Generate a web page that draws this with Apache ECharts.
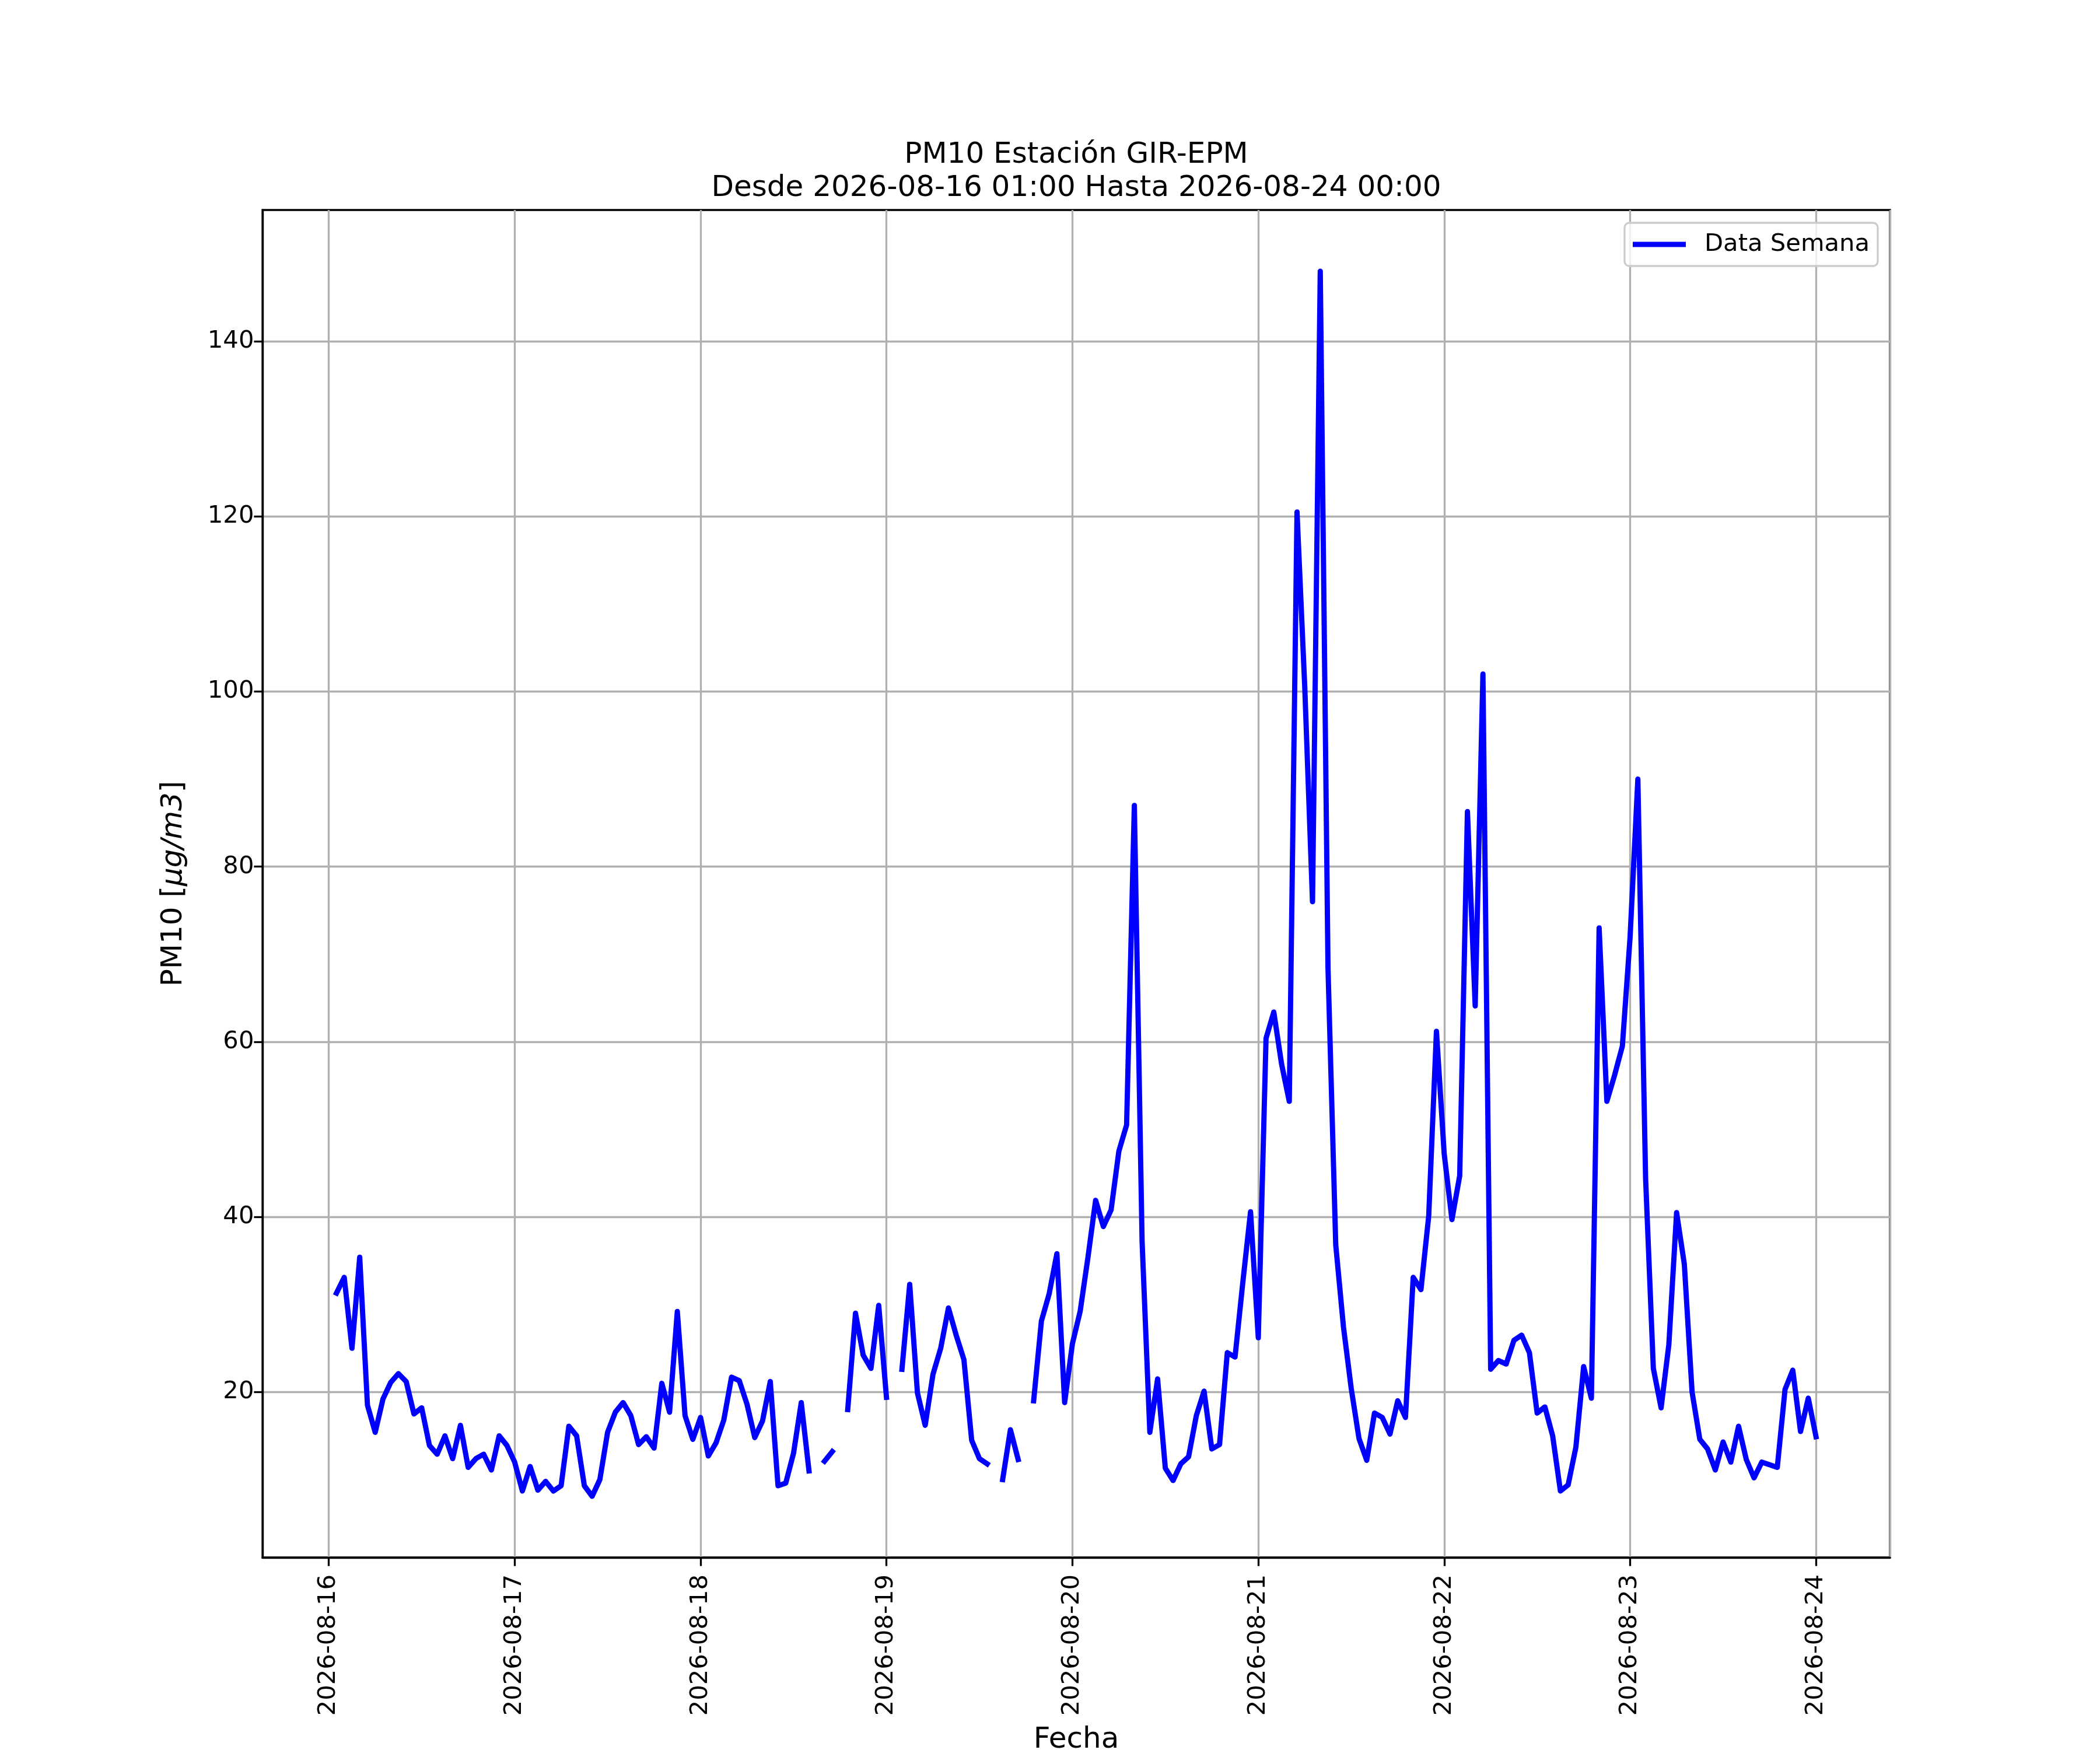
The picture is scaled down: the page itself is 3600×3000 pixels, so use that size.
<!DOCTYPE html>
<html>
<head>
<meta charset="utf-8">
<title>PM10 Estación GIR-EPM</title>
<script src="https://cdn.jsdelivr.net/npm/echarts@6/dist/echarts.min.js"></script>
<style>
    html, body { margin: 0; padding: 0; background: #fff; }
    #chart { width: 3600px; height: 3000px; }
</style>
</head>
<body>
<div id="chart"></div>
<script>
// valores horarios PM10, cada dia de 01:00 a 00:00 del dia siguiente (null = sin dato)
let day16 = [31.3, 33.1, 25.0, 35.4, 18.5, 15.4, 19.2, 21.1, 22.1, 21.2, 17.5, 18.2,
    13.9, 12.9, 15.0, 12.4, 16.2, 11.4, 12.4, 12.9, 11.1, 15.0, 13.9, 12.0];
let day17 = [8.7, 11.5, 8.8, 9.8, 8.7, 9.3, 16.1, 15.0, 9.3, 8.1, 10.0, 15.4,
    17.7, 18.8, 17.3, 14.0, 14.9, 13.6, 21.0, 17.7, 29.2, 17.3, 14.6, 17.1];
let day18 = [12.7, 14.2, 16.8, 21.7, 21.3, 18.6, 14.8, 16.7, 21.2, 9.3, 9.6, 13.0,
    18.8, 11.0, null, 12.1, 13.2, null, 18.0, 29.0, 24.2, 22.7, 29.9, 19.4];
let day19 = [null, 22.6, 32.3, 19.9, 16.2, 22.0, 25.0, 29.6, 26.5, 23.7, 14.5, 12.4,
    11.8, null, 10.0, 15.7, 12.3, null, 19.0, 28.1, 31.2, 35.8, 18.8, 25.5];
let day20 = [29.2, 35.3, 41.9, 38.9, 40.8, 47.5, 50.5, 87.0, 37.2, 15.4, 21.5, 11.3,
    9.9, 11.8, 12.6, 17.3, 20.1, 13.5, 14.0, 24.5, 24.0, 32.5, 40.6, 26.2];
let day21 = [60.4, 63.4, 57.5, 53.2, 120.5, 100.5, 76.0, 148.0, 68.4, 36.8, 27.4, 20.4,
    14.7, 12.2, 17.6, 17.1, 15.2, 19.0, 17.1, 33.1, 31.7, 40.1, 61.2, 47.2];
let day22 = [39.7, 44.7, 86.3, 64.1, 102.0, 22.6, 23.6, 23.2, 25.9, 26.5, 24.5, 17.6,
    18.3, 15.0, 8.7, 9.4, 13.7, 22.9, 19.3, 73.0, 53.2, 56.2, 59.5, 72.0];
let day23 = [90.0, 44.4, 22.7, 18.2, 25.4, 40.5, 34.6, 20.0, 14.6, 13.5, 11.1, 14.3,
    12.0, 16.1, 12.3, 10.2, 12.0, 11.7, 11.4, 20.3, 22.5, 15.5, 19.3, 14.9];

let yTicks = [20, 40, 60, 80, 100, 120, 140];
let titulo = "PM10 Estación GIR-EPM";
let subtitulo = "Desde 2026-08-16 01:00 Hasta 2026-08-24 00:00";

let pm10 = [].concat(day16, day17, day18, day19, day20, day21, day22, day23);
let hora = 3600 * 1000;
let inicio = new Date(2026, 7, 16, 1).getTime();
let data = pm10.map(function (v, i) {
    return [new Date(2026, 7, 16, 1 + i).getTime(), v];
});

// margenes como matplotlib (5%)
let fin = data[data.length - 1][0];
let xMin = inicio - 0.05 * (fin - inicio);
let xMax = fin + 0.05 * (fin - inicio);
let vals = pm10.filter(function (v) { return v != null; });
let yLo = Math.min.apply(null, vals), yHi = Math.max.apply(null, vals);
let yMin = yLo - 0.05 * (yHi - yLo);
let yMax = yHi + 0.05 * (yHi - yLo);

let font = "DejaVu Sans";
function pad(n) { return n < 10 ? "0" + n : "" + n; }

let myChart = echarts.init(document.getElementById("chart"), null, {renderer: "canvas"});
let option = {
    backgroundColor: "#fff",
    animation: false,
    title: {
        text: titulo + "\n" + subtitulo,
        left: 1845,
        textAlign: "center",
        top: 238,
        padding: 0,
        textStyle: {
            fontFamily: font,
            fontSize: 50,
            fontWeight: "normal",
            color: "#000",
            lineHeight: 57
        }
    },
    legend: {
        data: ["Data Semana"],
        left: 2785,
        top: 382,
        orient: "vertical",
        icon: "rect",
        itemWidth: 91,
        itemHeight: 9,
        padding: [15, 14, 15, 14],
        borderColor: "#cccccc",
        borderWidth: 3.3,
        borderRadius: 8,
        backgroundColor: "rgba(255,255,255,0.8)",
        textStyle: {
            fontFamily: font,
            fontSize: 41.7,
            color: "#000",
            lineHeight: 44,
            padding: [0, 0, 0, 27]
        }
    },
    grid: {
        left: 450,
        right: 360,
        top: 360,
        bottom: 330,
        outerBoundsMode: "none",
        containLabel: false,
        show: true,
        borderColor: "#000",
        borderWidth: 3.3,
        backgroundColor: "transparent"
    },
    xAxis: {
        type: "time",
        min: xMin,
        max: xMax,
        minInterval: 24 * hora,
        maxInterval: 24 * hora,
        name: "Fecha",
        nameLocation: "middle",
        nameGap: 288,
        nameTextStyle: {fontFamily: font, fontSize: 50, color: "#000"},
        axisLine: {show: true, lineStyle: {color: "#000", width: 3.3}},
        axisTick: {show: true, length: 14.6, lineStyle: {color: "#000", width: 3.3}},
        axisLabel: {
            rotate: 90,
            margin: 29,
            fontFamily: font,
            fontSize: 41.7,
            color: "#000",
            formatter: function (val) {
                let d = new Date(val);
                return d.getFullYear() + "-" + pad(d.getMonth() + 1) + "-" + pad(d.getDate());
            }
        },
        splitLine: {show: true, lineStyle: {color: "#b0b0b0", width: 3.3}}
    },
    yAxis: {
        type: "value",
        min: yMin,
        max: yMax,
        name: "PM10 [{i|μg/m3}]",
        nameLocation: "middle",
        nameRotate: 90,
        nameGap: 127,
        nameTextStyle: {
            fontFamily: font,
            fontSize: 50,
            color: "#000",
            rich: {
                i: {fontFamily: font, fontSize: 50, color: "#000", fontStyle: "italic"}
            }
        },
        axisLine: {show: true, lineStyle: {color: "#000", width: 3.3}},
        axisTick: {show: true, length: 14.6, customValues: yTicks, lineStyle: {color: "#000", width: 3.3}},
        axisLabel: {
            customValues: yTicks,
            margin: 14.6,
            fontFamily: font,
            fontSize: 41.7,
            color: "#000"
        },
        splitLine: {show: true, lineStyle: {color: "#b0b0b0", width: 3.3}}
    },
    series: [{
        name: "Data Semana",
        type: "line",
        data: data,
        showSymbol: false,
        symbol: "none",
        connectNulls: false,
        color: "#0000ff",
        lineStyle: {color: "#0000ff", width: 9, join: "round", cap: "square"}
    }]
};
myChart.setOption(option);
</script>
</body>
</html>
